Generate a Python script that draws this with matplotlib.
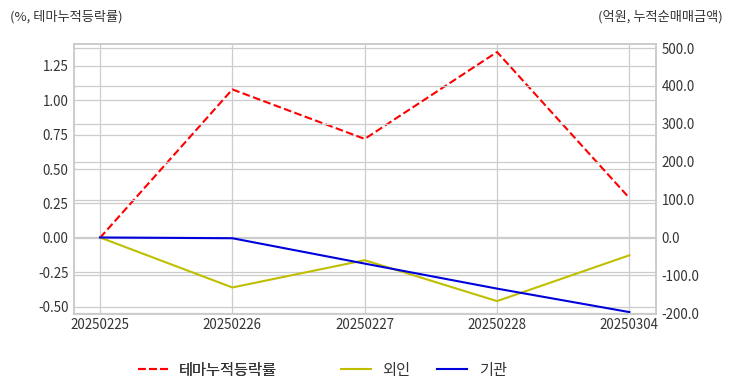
import matplotlib.pyplot as plt

plt.rcParams['font.family'] = ['Noto Sans CJK KR', 'DejaVu Sans']
plt.rcParams['axes.unicode_minus'] = False

dates = ['20250225', '20250226', '20250227', '20250228', '20250304']
theme_rate = [0.0, 1.079, 0.719, 1.351, 0.289]
foreign = [0.0, -132.0, -60.0, -168.0, -47.0]
inst = [0.0, -2.0, -69.0, -135.0, -197.0]

fig = plt.figure(figsize=(7.32, 3.92), dpi=100)
ax = fig.add_axes([0.101, 0.199, 0.795, 0.689])
ax2 = ax.twinx()

grid_c = '#cccccc'
for a in (ax, ax2):
    a.grid(True, color=grid_c, linewidth=0.9)
    a.set_axisbelow(True)
    for s in a.spines.values():
        s.set_color(grid_c)
        s.set_linewidth(1.2)
    a.tick_params(length=0, labelsize=9.6, colors='#333333', pad=4)

x = list(range(len(dates)))
l1, = ax.plot(x, theme_rate, color='r', linestyle='--', linewidth=1.5, label='테마누적등락률')
l2, = ax2.plot(x, foreign, color='#bfbf00', linewidth=1.5, label='외인')
l3, = ax2.plot(x, inst, color='#0000dd', linewidth=1.5, label='기관')

ax.set_xticks(x)
ax.set_xticklabels(dates)
ax.set_xlim(-0.197, 4.2)
ax.set_ylim(-0.554, 1.41)
ax.set_yticks([-0.5, -0.25, 0, 0.25, 0.5, 0.75, 1.0, 1.25])
ax.set_yticklabels(['-0.50', '-0.25', '0.00', '0.25', '0.50', '0.75', '1.00', '1.25'])
ax2.set_ylim(-202, 511)
ax2.set_yticks([-200, -100, 0, 100, 200, 300, 400, 500])
ax2.set_yticklabels([f'{v:.1f}' for v in [-200, -100, 0, 100, 200, 300, 400, 500]])
ax.tick_params(axis='x', pad=3)

fig.text(0.013, 0.958, '(%, 테마누적등락률)', fontsize=9.5, color='#333333', va='center')
fig.text(0.987, 0.958, '(억원, 누적순매매금액)', fontsize=9.5, color='#333333', va='center', ha='right')

leg_kw = dict(loc='center left', ncol=2, frameon=False, fontsize=11, borderaxespad=0,
              handlelength=1.95, handletextpad=0.75, columnspacing=1.75, labelcolor='#333333')
leg1 = fig.legend(handles=[l1], bbox_to_anchor=(0.180, 0.056), **leg_kw)
fig.add_artist(leg1)
fig.legend(handles=[l2, l3], bbox_to_anchor=(0.458, 0.056), **leg_kw)

fig.savefig('out.png', dpi=100)
